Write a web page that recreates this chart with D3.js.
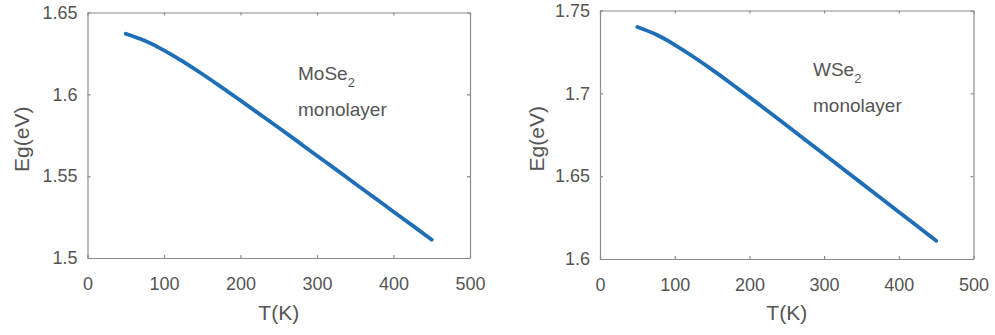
<!DOCTYPE html>
<html>
<head>
<meta charset="utf-8">
<script src="https://cdn.jsdelivr.net/npm/d3@7/dist/d3.min.js"></script>
<style>
  html, body { margin: 0; padding: 0; background: #fff; }
  svg { display: block; font-family: "Liberation Sans", Arial, Helvetica, sans-serif; }
  .axis path, .axis line { stroke: #8c8c8c; stroke-width: 1.2; }
  .axis text { fill: #555; font-size: 18px; }
  .label { fill: #555; font-size: 21px; }
  .note { fill: #555; font-size: 19px; }
</style>
</head>
<body>
<svg id="chart" width="995" height="335"></svg>
<script>
// Temperature grid (K)
const temps = [50, 75, 100, 125, 150, 175, 200, 225, 250, 275, 300, 325, 350, 375, 400, 425, 450];
// Band gap (eV) of the MoSe2 monolayer
const egMoSe2 = [1.637, 1.6327, 1.6269, 1.6200, 1.6124, 1.6044, 1.5962, 1.5879, 1.5796, 1.5711, 1.5625, 1.5540, 1.5454, 1.5369, 1.5283, 1.5198, 1.5112];
// Band gap (eV) of the WSe2 monolayer
const egWSe2 = [1.740, 1.7355, 1.7293, 1.7221, 1.7143, 1.7061, 1.6977, 1.6892, 1.6806, 1.6719, 1.6632, 1.6545, 1.6458, 1.6371, 1.6284, 1.6197, 1.6110];

// Axis ticks
const xTicks = [0, 100, 200, 300, 400, 500];
const xTickLabels = ["0", "100", "200", "300", "400", "500"];
const yTicksMoSe2 = [1.5, 1.55, 1.6, 1.65];
const yTickLabelsMoSe2 = ["1.5", "1.55", "1.6", "1.65"];
const yTicksWSe2 = [1.6, 1.65, 1.7, 1.75];
const yTickLabelsWSe2 = ["1.6", "1.65", "1.7", "1.75"];

const panels = [
  { vals: egMoSe2, yTicks: yTicksMoSe2, yLabels: yTickLabelsMoSe2,
    box: { left: 87.5, right: 470, top: 12.5, bottom: 258 },
    material: "MoSe", note: { x: 298, y: 80 }, yLabelX: 22 },
  { vals: egWSe2, yTicks: yTicksWSe2, yLabels: yTickLabelsWSe2,
    box: { left: 600, right: 973.5, top: 10.5, bottom: 259 },
    material: "WSe", note: { x: 813, y: 76 }, yLabelX: 537 }
];

const svg = d3.select("#chart");
svg.append("rect").attr("width", 995).attr("height", 335).attr("fill", "#fff");

panels.forEach(p => {
  const b = p.box;
  const x = d3.scaleLinear().domain([0, 500]).range([b.left, b.right]);
  const yDom = [p.yTicks[0], p.yTicks[p.yTicks.length - 1]];
  const y = d3.scaleLinear().domain(yDom).range([b.bottom, b.top]);

  const g = svg.append("g");

  // bottom axis with labels, inward ticks
  g.append("g").attr("class", "axis")
    .attr("transform", `translate(0,${b.bottom})`)
    .call(d3.axisBottom(x).tickValues(xTicks)
      .tickFormat((d, i) => xTickLabels[i])
      .tickSizeInner(-3).tickSizeOuter(0).tickPadding(19));
  // top axis, ticks only
  g.append("g").attr("class", "axis")
    .attr("transform", `translate(0,${b.top})`)
    .call(d3.axisTop(x).tickValues(xTicks).tickFormat("")
      .tickSizeInner(-3).tickSizeOuter(0));
  // left axis with labels
  g.append("g").attr("class", "axis")
    .attr("transform", `translate(${b.left},0)`)
    .call(d3.axisLeft(y).tickValues(p.yTicks)
      .tickFormat((d, i) => p.yLabels[i])
      .tickSizeInner(-3).tickSizeOuter(0).tickPadding(10));
  // right axis, ticks only
  g.append("g").attr("class", "axis")
    .attr("transform", `translate(${b.right},0)`)
    .call(d3.axisRight(y).tickValues(p.yTicks).tickFormat("")
      .tickSizeInner(-3).tickSizeOuter(0));

  // curve
  const line = d3.line()
    .x((d, i) => x(temps[i]))
    .y(d => y(d))
    .curve(d3.curveNatural);
  g.append("path")
    .datum(p.vals)
    .attr("fill", "none")
    .attr("stroke", "#1f6fb8")
    .attr("stroke-width", 3.8)
    .attr("stroke-linecap", "round")
    .attr("stroke-linejoin", "round")
    .attr("d", line);

  // axis titles
  g.append("text").attr("class", "label")
    .attr("x", (b.left + b.right) / 2).attr("y", 320)
    .attr("text-anchor", "middle").text("T(K)");
  g.append("text").attr("class", "label")
    .attr("transform", `translate(${p.yLabelX},${(b.top + b.bottom) / 2 + 4}) rotate(-90)`)
    .attr("text-anchor", "middle").attr("dy", "0.35em").text("Eg(eV)");

  // material annotation
  const t1 = g.append("text").attr("class", "note")
    .attr("x", p.note.x).attr("y", p.note.y);
  t1.append("tspan").text(p.material);
  t1.append("tspan").attr("font-size", "13px").attr("dy", 7).text("2");
  g.append("text").attr("class", "note")
    .attr("x", p.note.x).attr("y", p.note.y + 36).text("monolayer");
});
</script>
</body>
</html>
